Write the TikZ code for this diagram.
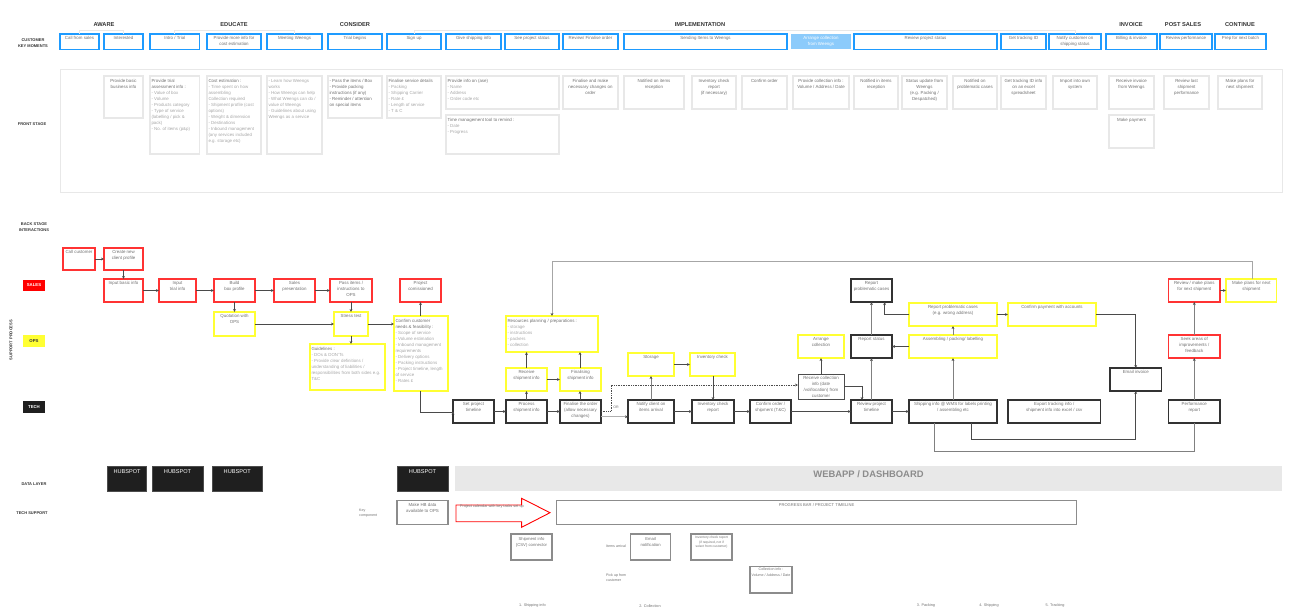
\documentclass[tikz,border=0pt]{standalone}
\usepackage{fontspec}
\setmainfont{Liberation Sans}
\usetikzlibrary{arrows.meta,calc}
\definecolor{cblue}{HTML}{1E9BFF}
\definecolor{cblued}{HTML}{8CCBFB}
\definecolor{cred}{HTML}{FF3333}
\definecolor{cyel}{HTML}{FFFF33}
\definecolor{cblk}{HTML}{333333}
\definecolor{cgr}{HTML}{E8E8E8}
\definecolor{cbt}{HTML}{8C8C8C}
\definecolor{txh}{HTML}{707070}
\definecolor{txl}{HTML}{A6A6A6}
\definecolor{conn}{HTML}{4A4A4A}
\definecolor{cfade}{HTML}{B0B0B0}
\newcommand{\fsl}[2]{\fontsize{#1}{#2}\selectfont}
\newcommand{\lt}{\color{txl}}
\def\ins{2}
\def\bfs{\fsl{4.4}{6}}
\newcommand{\bx}[7][]{%
  \pgfmathsetlengthmacro{\bxw}{(#5-#3)*1pt}%
  \pgfmathsetlengthmacro{\bxh}{(#6-#4)*1pt}%
  \pgfmathsetlengthmacro{\bxtw}{\bxw-3pt}%
  \node[bxbase,#1,minimum width=\bxw,minimum height=\bxh] (#2) at ({(#3+#5)/2},{(#4+#6)/2})
    {\parbox[t][\bxh][t]{\bxtw}{\vspace*{\ins pt}\centering\bfs #7}};}
\tikzset{
  bxbase/.style={rectangle,inner sep=0pt,outer sep=0pt,text=txh},
  keybox/.style={draw=cblue,line width=1.3pt},
  keyfill/.style={fill=cblued,draw=none,text=white},
  frontbox/.style={draw=cgr,line width=1.1pt},
  redbox/.style={draw=cred,line width=1.3pt},
  yelbox/.style={draw=cyel,line width=1.3pt},
  blkbox/.style={draw=cblk,line width=1.4pt},
  botbox/.style={draw=cbt,line width=1.3pt},
  hubbox/.style={fill=black!88,draw=black!70,line width=.4pt,text=white},
  phase/.style={font=\fsl{5.7}{7}\bfseries,text=cblk,inner sep=0pt},
  rowlab/.style={font=\fsl{4}{6}\bfseries,text=cblk,inner sep=0pt,align=center},
  tag/.style={inner sep=0pt,outer sep=0pt,minimum width=22pt,minimum height=11.5pt,font=\fsl{4.3}{6}\bfseries},
  smalltxt/.style={font=\fsl{3.6}{4.8},text=txh,inner sep=0pt,align=left},
  bracket/.style={draw=cgr,line width=.6pt},
  cn/.style={draw=conn,line width=.7pt,-{Stealth[length=3pt,width=2.8pt]}},
  cnp/.style={draw=conn,line width=.7pt},
  cng/.style={draw=black!50,line width=.9pt,-{Stealth[length=3pt,width=2.8pt,color=conn,fill=conn]}},
  cnl/.style={draw=black!35,line width=.9pt},
  cnd/.style={draw=black!70,line width=.7pt,densely dotted,-{Stealth[length=3pt,width=2.8pt]}},
  cnf/.style={draw=cfade,line width=.8pt,-{Stealth[length=3pt,width=2.8pt,color=conn,fill=conn]}},
}
\begin{document}
\begin{tikzpicture}[x=1pt,y=-1pt]
\useasboundingbox (0,0) rectangle (1314,614);
% phase labels
\node[phase] (pAware) at (104,25) {AWARE};
\node[phase] (pEdu) at (234,25) {EDUCATE};
\node[phase] (pCons) at (355,25) {CONSIDER};
\node[phase] (pImpl) at (700,25) {IMPLEMENTATION};
\node[phase] (pInv) at (1131,25) {INVOICE};
\node[phase] (pPost) at (1183,25) {POST SALES};
\node[phase] (pCont) at (1240,25) {CONTINUE};
% row labels
\node[rowlab] (rKey) at (33,42.7) {CUSTOMER\\KEY MOMENTS};
\node[rowlab] (rFront) at (32,124) {FRONT STAGE};
\node[rowlab] (rBack) at (34,227) {BACK STAGE\\INTERACTIONS};
\node[rowlab,rotate=90] (rSup) at (11,340) {SUPPORT PROCESS};
\node[rowlab] (rData) at (34,484) {DATA LAYER};
\node[rowlab] (rTech) at (32,513) {TECH SUPPORT};
\node[tag,fill=red,text=white] (tSales) at (34,285.5) {SALES};
\node[tag,fill=cyel,text=cblk] (tOps) at (34,341) {OPS};
\node[tag,fill=black!88,text=white] (tTech) at (34,407) {TECH};
% key moments
\def\ins{2.6}
\bx[keybox]{k1}{60}{34}{99}{49.3}{Call from sales}
\bx[keybox]{k2}{104}{34}{143}{49.3}{Interested}
\bx[keybox]{k3}{150}{34}{199.5}{49.3}{Intro / Trial}
\bx[keybox]{k4}{207}{34}{261}{49.3}{Provide more info for\\cost estimation}
\bx[keybox]{k5}{267}{34}{322}{49.3}{Meeting Weengs}
\bx[keybox]{k6}{328}{34}{382}{49.3}{Trial begins}
\bx[keybox]{k7}{387}{34}{441}{49.3}{Sign up}
\bx[keybox]{k8}{446}{34}{501}{49.3}{Give shipping info}
\bx[keybox]{k9}{505}{34}{559}{49.3}{See project status}
\bx[keybox]{k10}{563}{34}{618}{49.3}{Review/ Finalise order}
\bx[keybox]{k11}{624}{34}{787}{49.3}{Sending Items to Weengs}
\bx[keyfill]{k12}{791}{34}{851}{49.3}{Arrange collection\\from Weengs}
\bx[keybox]{k13}{854}{34}{997}{49.3}{Review project status}
\bx[keybox]{k14}{1001}{34}{1046}{49.3}{Get tracking ID}
\bx[keybox]{k15}{1049}{34}{1101}{49.3}{Notify customer on\\shipping status}
\bx[keybox]{k16}{1106}{34}{1157}{49.3}{Billing \& invoice}
\bx[keybox]{k17}{1160}{34}{1212}{49.3}{Review performance}
\bx[keybox]{k18}{1215}{34}{1266}{49.3}{Prep for next batch}
\draw[bracket] (k1.north) -- ++(0,-4) -| (k2.north);
\draw[bracket] (k3.north) -- ++(0,-4) -| (k5.north);
\draw[bracket] (k7.north) -- ++(0,-4) -| (k15.north);
% front stage
\node[draw=cgr,line width=.8pt,inner sep=0pt,minimum width=1222pt,minimum height=123pt] (fFrame) at (671,130.5) {};
\def\ins{3}
\bx[frontbox]{f1}{104}{76}{143}{118}{Provide basic\\business info}
\bx[frontbox]{f2}{150}{76}{199.5}{154}{\raggedright Provide trial\\assessment info :\\\lt - Value of box\\- Volume\\- Products category\\- Type of service\\(labelling / pick \&\\pack)\\- No. of items (p\&p)}
\bx[frontbox]{f3}{207}{76}{261}{154}{\raggedright Cost estimation :\\\lt - Time spent on how\\assembling\\Collection required\\- Shipment profile (cost\\options)\\- Weight \& dimension\\- Destinations\\- Inbound management\\(any services included\\e.g. storage etc)}
\bx[frontbox]{f4}{267}{76}{322}{154}{\raggedright\lt - Learn how Weengs\\works\\- How Weengs can help\\- What Weengs can do /\\value of Weengs\\- Guidelines about using\\Weengs as a service}
\bx[frontbox]{f5}{328}{76}{382}{118}{\raggedright - Pass the items / Box\\- Provide packing\\instructions (if any)\\- Reminder / attention\\on special items}
\bx[frontbox]{f6}{387}{76}{441}{118}{\raggedright Finalise service details\\\lt - Packing\\- Shipping Carrier\\- Rate £\\- Length of service\\- T \& C}
\bx[frontbox]{f7}{446}{76}{559}{109}{\raggedright Provide info on (ase)\\\lt - Name\\- Address\\- Order code etc}
\bx[frontbox]{f8}{446}{115}{559}{154}{\raggedright Time management tool to remind :\\\lt - Date\\- Progress}
\bx[frontbox]{f9}{563}{76}{618}{109}{Finalise and make\\necessary changes on\\order}
\bx[frontbox]{f10}{624}{76}{684}{109}{Notified on items\\reception}
\bx[frontbox]{f11}{692}{76}{736}{109}{Inventory check\\report\\(if necessary)}
\bx[frontbox]{f12}{742}{76}{787}{109}{Confirm order}
\bx[frontbox]{f13}{793}{76}{849}{109}{Provide collection info :\\Volume / Address / Date}
\bx[frontbox]{f14}{854}{76}{898}{109}{Notified in items\\reception}
\bx[frontbox]{f15}{902}{76}{947}{109}{Status update from\\Weengs\\(e.g. Packing /\\Despatched)}
\bx[frontbox]{f16}{953}{76}{997}{109}{Notified on\\problematic cases}
\bx[frontbox]{f17}{1001}{76}{1046}{109}{Get tracking ID info\\on an excel\\spreadsheet}
\bx[frontbox]{f18}{1053}{76}{1097}{109}{Import into own\\system}
\bx[frontbox]{f19}{1109}{76}{1154}{109}{Receive invoice\\from Weengs}
\bx[frontbox]{f20}{1109}{115}{1154}{148}{Make payment}
\bx[frontbox]{f21}{1164}{76}{1209}{109}{Review last\\shipment\\performance}
\bx[frontbox]{f22}{1218}{76}{1262}{109}{Make plans for\\next shipment}
% back stage
\def\ins{2.6}
\bx[redbox]{bCall}{63}{248}{95}{270}{Call customer}
\bx[redbox]{bNew}{104}{248}{143}{270}{Create new\\client profile}
\bx[redbox]{bBasic}{104}{279}{143}{302}{Input basic info}
\bx[redbox]{bTrial}{159}{279}{196}{302}{Input\\trial info}
\bx[redbox]{bBuild}{214}{279}{255}{302}{Build\\box profile}
\bx[redbox]{bSales}{274}{279}{315}{302}{Sales\\presentation}
\bx[redbox]{bPass}{330}{279}{372}{302}{Pass items /\\instructions to\\OPS}
\bx[redbox]{bProj}{400}{279}{441}{302}{Project\\comissioned}
\bx[yelbox]{bQuote}{214}{312}{255}{336}{Quotation with\\OPS}
\bx[yelbox]{bStress}{334}{312}{368}{336}{Stress test}
\def\ins{3.5}
\bx[yelbox]{bGuide}{310}{344}{385}{390}{\raggedright Guidelines :\\\lt - DOs \& DON'Ts\\- Provide clear definitions /\\understanding of liabilities /\\responsibilities from both sides e.g.\\T\&C}
\bx[yelbox]{bConf}{394}{316}{448}{391}{\raggedright Confirm customer\\needs \& feasibility :\\\lt - Scope of service\\- Volume estimation\\- Inbound management\\requirements\\- Delivery options\\- Packing instructions\\- Project timeline, length\\of service\\- Rates £}
\bx[yelbox]{bRes}{506}{316}{598}{352}{\raggedright Resources planning / preparations :\\\lt - storage\\- instructions\\- packers\\- collection}
\def\ins{2.6}
\bx[yelbox]{bRecv}{506}{368}{547}{391}{Receive\\shipment info}
\bx[yelbox]{bFing}{560}{368}{601}{391}{Finalising\\shipment info}
\bx[yelbox]{bStor}{628}{353}{674}{376}{Storage}
\bx[yelbox]{bInv}{690}{353}{735}{376}{Inventory check}
\bx[yelbox]{bArr}{798}{335}{844}{358}{Arrange\\collection}
\bx[yelbox]{bAsm}{909}{335}{997}{358}{Assembling / packing/ labelling}
\bx[yelbox]{bRepY}{909}{303}{997}{326}{Report problematic cases\\(e.g. wrong address)}
\bx[yelbox]{bPay}{1008}{303}{1096}{326}{Confirm payment with accounts}
\bx[yelbox]{bMake}{1226}{279}{1276.6}{302}{Make plans for next\\shipment}
\bx[redbox]{bRev}{1168.6}{279}{1220}{302}{Review / make plans\\for next shipment}
\bx[redbox]{bSeek}{1168.6}{335}{1220}{358}{Seek areas of\\improvements /\\feedback}
\bx[blkbox]{tSet}{453}{400}{494}{423}{Set project\\timeline}
\bx[blkbox]{tProc}{506}{400}{547}{423}{Process\\shipment info}
\bx[blkbox]{tFin}{560}{400}{601}{423}{Finalise the order\\(allow necessary\\changes)}
\bx[blkbox]{tNot}{628}{400}{674}{423}{Notify client on\\items arrival}
\bx[blkbox]{tInv}{692}{400}{734}{423}{Inventory check\\report}
\bx[blkbox]{tOrd}{750}{400}{791}{423}{Confirm order /\\shipment (T\&C)}
\bx[blkbox,draw=black!70,line width=1pt]{tRc}{798}{374}{844}{399}{Receive collection\\info (date\\/vol/location) from\\customer}
\bx[blkbox]{tRev}{851}{400}{892}{423}{Review project\\timeline}
\bx[blkbox]{tStat}{851}{335}{892}{358}{Report status}
\bx[blkbox]{tProb}{851}{279}{892}{302}{Report\\problematic cases}
\bx[blkbox]{tShip}{909}{400}{997}{423}{Shipping info @ WMS for labels printing\\/ assembling etc}
\bx[blkbox]{tExp}{1008}{400}{1100.5}{423}{Export tracking info /\\shipment info into excel / csv}
\bx[blkbox]{tMail}{1110}{368}{1161.5}{391}{Email invoice}
\bx[blkbox]{tPerf}{1168.6}{400}{1220}{423}{Performance\\report}
% connector helpers
\coordinate (yTop) at (0,261);
\coordinate (xRes) at (552,0);
\coordinate (xMk) at (1252,0);
\coordinate (yDot) at (0,411);
\coordinate (xDot) at (611,0);
\coordinate (yDotT) at (0,385);
\coordinate (yFade) at (0,416.7);
\coordinate (yRc) at (0,386);
\coordinate (xRc) at (862,0);
\coordinate (xProbY) at (884.6,0);
\coordinate (yA) at (0,439);
\coordinate (yB) at (0,451);
\coordinate (xA) at (971,0);
\coordinate (xB) at (934,0);
\coordinate (xConf) at (420.5,0);
\coordinate (ySet) at (0,412);
\coordinate (xRv) at (526.5,0);
\coordinate (xFg) at (580,0);
% connectors
\draw[cn] (bCall) -- (bNew);
\draw[cn] (bNew) -- (bBasic);
\draw[cn] (bBasic) -- (bTrial);
\draw[cn] (bTrial) -- (bBuild);
\draw[cn] (bBuild) -- (bSales);
\draw[cn] (bSales) -- (bPass);
\draw[cn] (bBuild) -- (bQuote);
\draw[cn] (bPass.south -| bStress) -- (bStress);
\draw[cn] (bQuote) -- (bStress);
\draw[cn] (bStress.south) -- (bGuide.north -| bStress);
\draw[cn] (bStress) -- (bConf.west |- bStress);
\draw[cn] (bConf.north -| xConf) -- (bProj.south -| xConf);
\draw[cn] (bConf.south -| xConf) |- (tSet.west |- ySet) -- (tSet.west);
\draw[cn] (tSet) -- (tProc);
\draw[cn] (tProc) -- (tFin);
\draw[cn] (tProc.north -| xRv) -- (bRecv.south -| xRv);
\draw[cn] (tFin.north -| xFg) -- (bFing.south -| xFg);
\draw[cn] (bRecv) -- (bFing);
\draw[cn] (bRecv.north -| xRv) -- (bRes.south -| xRv);
\draw[cn] (bFing.north -| xFg) -- (bRes.south -| xFg);
\draw[cnl,-{Stealth[length=3pt,width=2.8pt,color=conn,fill=conn]}] (bMake.north -| xMk) |- (xRes |- yTop) -- (bRes.north -| xRes);
\draw[cnd] (tFin.east |- yDot) -| (xDot |- yDotT) -- (tRc.west |- yDotT);
\draw[cnf] (tFin.east |- yFade) -- (tNot.west |- yFade);
\node[smalltxt] (lOr) at (616,407) {OR};
\draw[cng] (tNot) -- (bStor);
\draw[cn] (bStor) -- (bInv);
\draw[cn] (bInv.south -| tInv) -- (tInv);
\draw[cn] (tNot) -- (tInv);
\draw[cn] (tInv) -- (tOrd);
\draw[cn] (tOrd) -- (tRev);
\draw[cn] (tRc) -- (bArr);
\draw[cn] (tRc.east |- yRc) -| (xRc |- tRev.north);
\draw[cng] (tRev) -- (tStat);
\draw[cng] (tStat) -- (tProb);
\draw[cn] (tRev) -- (tShip);
\draw[cng] (tShip) -- (bAsm);
\draw[cn] (bAsm) -- (tStat);
\draw[cng] (bAsm) -- (bRepY);
\draw[cn] (bRepY.west) -| (xProbY |- tProb.south);
\draw[cn] (bRepY) -- (bPay);
\draw[cn] (bPay.east) -| (tMail.north);
\draw[cn] (xA |- tShip.south) |- (tMail.south |- yA) -- (tMail.south);
\draw[cnp,draw=black!50] (xB |- tShip.south) |- (tPerf.south |- yB) -- (tPerf.south);
\draw[cng] (tPerf) -- (bSeek);
\draw[cng] (bSeek) -- (bRev);
\draw[cn] (bRev) -- (bMake);
% data layer
\def\ins{2.8}
\def\bfs{\fsl{5.6}{7}}
\bx[hubbox]{h1}{107.5}{466.3}{146.6}{490.7}{HUBSPOT}
\bx[hubbox]{h2}{152}{466.3}{203}{490.7}{HUBSPOT}
\bx[hubbox]{h3}{212}{466.3}{262.5}{490.7}{HUBSPOT}
\bx[hubbox]{h4}{397}{466.3}{448}{490.7}{HUBSPOT}
\def\ins{4}
\def\bfs{\fsl{9.4}{11}\bfseries}
\bx[fill=cgr,text=cbt]{wApp}{455}{466.3}{1282}{490.7}{WEBAPP / DASHBOARD}
% tech support
\def\ins{2.8}
\def\bfs{\fsl{4.4}{6}}
\bx[botbox]{sHb}{397}{500.7}{448}{524.7}{Make HB data\\available to OPS}
\def\bfs{\fsl{4.1}{6}}
\bx[botbox]{sBar}{556.4}{500.7}{1076.7}{524.7}{PROGRESS BAR / PROJECT TIMELINE}
\def\ins{3}
\def\bfs{\fsl{4.2}{6}}
\bx[botbox]{sShip}{511}{534}{552}{560}{Shipment info\\(CSV) connector}
\bx[botbox]{sMail}{630.5}{534}{670.7}{560}{Email\\notification}
\def\ins{2.5}
\def\bfs{\fsl{3.3}{4.5}}
\bx[botbox]{sInv}{691}{534}{732}{560}{Inventory check report\\(if required, not if\\select from customer)}
\def\ins{2}
\def\bfs{\fsl{3.6}{5.5}}
\bx[botbox]{sColl}{750}{566.3}{792}{593}{Collection info :\\Volume / Address / Date}
\draw[draw=red,line width=.9pt,fill=white] (456,505) -- (521.6,505) -- (521.6,498.3) -- (550,512.7) -- (521.6,527.3) -- (521.6,521.7) -- (456,521.7) -- cycle;
\node[smalltxt,font=\fsl{3.8}{5},anchor=west] (sCal) at (460,507) {Project calendar with key tasks set up};
\node[smalltxt,font=\fsl{3.6}{5.7},anchor=west] (sKey) at (359,513) {Key\\component};
\node[smalltxt,anchor=west] (sArr) at (606,546.7) {Items arrival};
\node[smalltxt,anchor=west] (sPick) at (606,577.5) {Pick up from\\customer};
\node[smalltxt,font=\fsl{3.8}{5}] (n1) at (532.5,605.7) {1. Shipping info};
\node[smalltxt,font=\fsl{3.8}{5}] (n2) at (650,605.7) {2. Collection};
\node[smalltxt,font=\fsl{3.8}{5}] (n3) at (926,605.7) {3. Packing};
\node[smalltxt,font=\fsl{3.8}{5}] (n4) at (989,605.7) {4. Shipping};
\node[smalltxt,font=\fsl{3.8}{5}] (n5) at (1055,605.7) {5. Tracking};
\end{tikzpicture}
\end{document}
